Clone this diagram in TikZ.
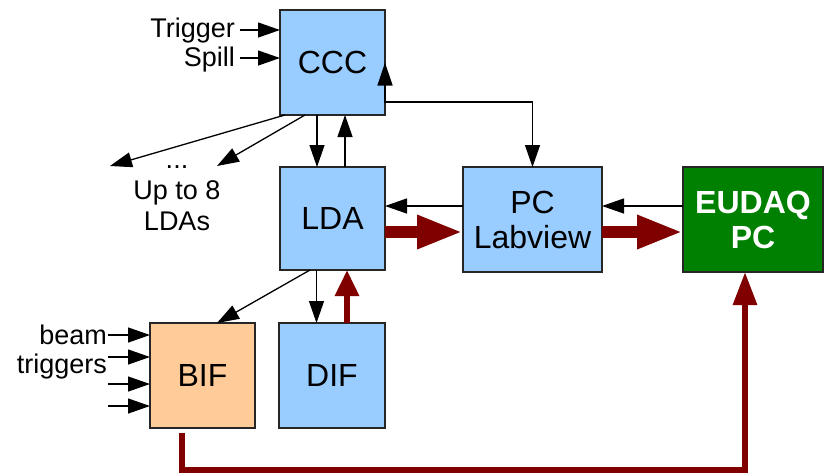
\documentclass[tikz,border=0pt]{standalone}
\usepackage{fontspec}
\setmainfont{Liberation Sans}
\usetikzlibrary{arrows.meta}
\definecolor{boxblue}{HTML}{99CCFF}
\definecolor{boxpeach}{HTML}{FFCC99}
\definecolor{boxgreen}{HTML}{008000}
\definecolor{datared}{HTML}{800000}
\begin{document}
\begin{tikzpicture}[x=1pt,y=-1pt,
  unit/.style={draw=black!85,line width=1.4pt,inner sep=0pt,outer sep=0pt,
    minimum width=105pt,minimum height=105pt,align=center,
    font=\fontsize{32}{35}\selectfont},
  lbl/.style={inner sep=0pt,font=\fontsize{27}{30}\selectfont},
  ctrl/.style={line width=1.3pt,-{Triangle[length=22pt,width=15pt]}},
  ctrlboth/.style={line width=1.3pt,{Triangle[length=23pt,width=15pt]}-{Triangle[length=22pt,width=15pt]}},
  bulk/.style={datared,line width=12pt,-{Triangle[length=46pt,width=31pt]}},
  feed/.style={datared,line width=6pt,-{Triangle[length=26pt,width=23pt]}},
  feedlong/.style={datared,line width=6pt,-{Triangle[length=33pt,width=23pt]}}]
\useasboundingbox (0,0) rectangle (824,475);

% boxes
\node[unit,fill=boxblue] (CCC) at (332.5,62.5) {CCC};
\node[unit,fill=boxblue,minimum height=103pt] (LDA) at (332.5,218.5) {LDA};
\node[unit,fill=boxblue,minimum width=139pt] (PC) at (532.5,219.5) {PC\\Labview};
\node[unit,fill=boxgreen,minimum width=140pt,text=white,font=\fontsize{32}{35}\selectfont\bfseries] (EUDAQ) at (753,219.5) {EUDAQ\\PC};
\node[unit,fill=boxpeach] (BIF) at (202.5,375.5) {BIF};
\node[unit,fill=boxblue,minimum width=106pt] (DIF) at (332,375.5) {DIF};

% text labels (base anchor sits on the last line)
\node[lbl,anchor=base east] (trig) at (235,37) {Trigger};
\node[lbl,anchor=base east] (spill) at (235,66) {Spill};
\node[lbl,anchor=base,align=center,font=\fontsize{27}{31}\selectfont] (more) at (177,230) {...\\Up to 8\\LDAs};
\node[lbl,anchor=base east,align=right,font=\fontsize{27}{29}\selectfont] (beam) at (107,373) {beam\\triggers};

% row heights and loose ends
\coordinate (rowctl) at (0,206);
\coordinate (rowdat) at (0,232);
\coordinate (bend) at (385,102);
\coordinate (endA) at (110,166);
\coordinate (endB) at (217,166);
\coordinate (inA) at (108,335);
\coordinate (inB) at (108,357);
\coordinate (inC) at (108,384);
\coordinate (inD) at (108,406);
\coordinate (floor) at (0,470);
\coordinate (bifout) at (182,433);

% control lines
\draw[ctrl] ([xshift=5pt]trig.east |- 0,30) -- (CCC.west |- 0,30);
\draw[ctrl] ([xshift=5pt]spill.east |- 0,58) -- (CCC.west |- 0,58);
\draw[ctrl] ([xshift=-47.5pt]CCC.south) -- (endA);
\draw[ctrl] ([xshift=-27.5pt]CCC.south) -- (endB);
\draw[ctrl] ([xshift=-15.5pt]CCC.south) -- ([xshift=-15.5pt]LDA.north);
\draw[ctrl] ([xshift=12.5pt]LDA.north) -- ([xshift=12.5pt]CCC.south);
\draw[ctrlboth] (CCC.east) -- (bend) -| (PC.north);
\draw[ctrl] (PC.west |- rowctl) -- (LDA.east |- rowctl);
\draw[ctrl] (EUDAQ.west |- rowctl) -- (PC.east |- rowctl);
\draw[ctrl] ([xshift=-22.5pt]LDA.south) -- ([xshift=14.5pt]BIF.north);
\draw[ctrl] ([xshift=-16pt]LDA.south) -- ([xshift=-15.5pt]DIF.north);
\foreach \p in {inA,inB,inC,inD}
  \draw[ctrl] (\p) -- (BIF.west |- \p);

% data lines
\draw[bulk] (LDA.east |- rowdat) -- (PC.west |- rowdat);
\draw[bulk] (PC.east |- rowdat) -- (EUDAQ.west |- rowdat);
\draw[feed] ([xshift=15pt]DIF.north) -- ([xshift=14.5pt]LDA.south);
\draw[feedlong] (bifout) -- (bifout |- floor) -| ([xshift=-8pt]EUDAQ.south);
\end{tikzpicture}
\end{document}
